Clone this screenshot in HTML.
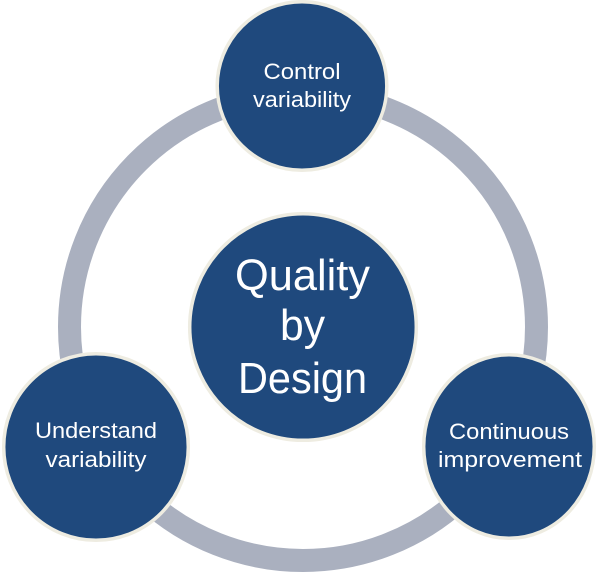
<!DOCTYPE html>
<html>
<head>
<meta charset="utf-8">
<style>
  html, body { margin: 0; padding: 0; background: #ffffff; }
  body { width: 600px; height: 574px; overflow: hidden; }
  svg { display: block; }
  text { font-family: "Liberation Sans", "DejaVu Sans", sans-serif; fill: #ffffff; text-anchor: middle; }
</style>
</head>
<body>
<svg width="600" height="574" viewBox="0 0 600 574" xmlns="http://www.w3.org/2000/svg">
  <!-- ring -->
  <circle cx="303" cy="327" r="233.5" fill="none" stroke="#AAB0BF" stroke-width="23"/>

  <!-- top node -->
  <ellipse cx="302" cy="86" rx="84.8" ry="84.3" fill="#1F497D" stroke="#EEECE1" stroke-width="3.5"/>
  <text x="302" y="79" font-size="22" textLength="77" lengthAdjust="spacingAndGlyphs">Control</text>
  <text x="302" y="107" font-size="22" textLength="98" lengthAdjust="spacingAndGlyphs">variability</text>

  <!-- center node -->
  <circle cx="303" cy="327" r="113.3" fill="#1F497D" stroke="#EEECE1" stroke-width="3.5"/>
  <text x="302.5" y="290" font-size="44" textLength="135" lengthAdjust="spacingAndGlyphs">Quality</text>
  <text x="302.5" y="340" font-size="44" textLength="45" lengthAdjust="spacingAndGlyphs">by</text>
  <text x="302.5" y="393" font-size="44" textLength="129" lengthAdjust="spacingAndGlyphs">Design</text>

  <!-- left node -->
  <ellipse cx="96" cy="447" rx="92.3" ry="93.3" fill="#1F497D" stroke="#EEECE1" stroke-width="3.5"/>
  <text x="96" y="438" font-size="22" textLength="122" lengthAdjust="spacingAndGlyphs">Understand</text>
  <text x="96" y="467" font-size="22" textLength="101" lengthAdjust="spacingAndGlyphs">variability</text>

  <!-- right node -->
  <ellipse cx="509" cy="446.5" rx="85.3" ry="91.8" fill="#1F497D" stroke="#EEECE1" stroke-width="3.5"/>
  <text x="509" y="439" font-size="22" textLength="120" lengthAdjust="spacingAndGlyphs">Continuous</text>
  <text x="510" y="467" font-size="22" textLength="144" lengthAdjust="spacingAndGlyphs">improvement</text>
</svg>
</body>
</html>
